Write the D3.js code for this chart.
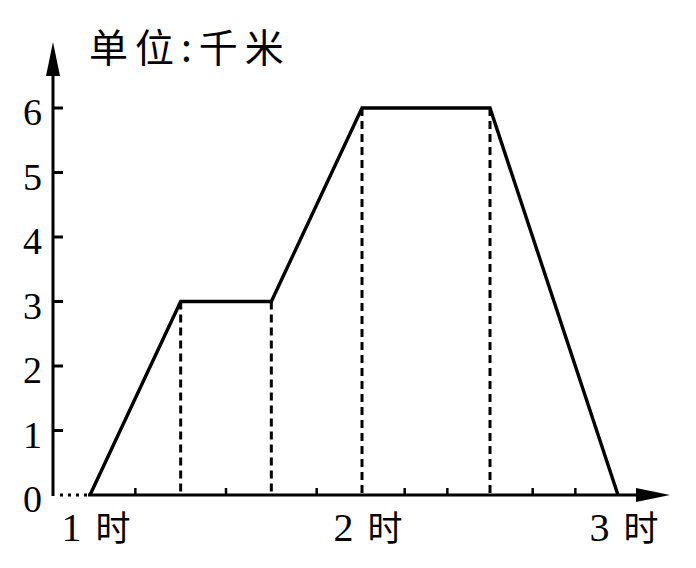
<!DOCTYPE html>
<html>
<head>
<meta charset="utf-8">
<script src="https://cdn.jsdelivr.net/npm/d3@7"></script>
<style>
  body { margin: 0; background: #fff; }
</style>
</head>
<body>
<div id="chart"></div>
<script>
// minutes after 1时, distance in 千米
const times = [0, 20, 40, 60, 90, 120];
const distances = [0, 3, 3, 6, 6, 0];
const yTicks = [0, 1, 2, 3, 4, 5, 6];
const xMinorTicks = [10, 30, 50, 70, 80, 100, 110];
const xLabelTimes = [0, 60, 120];
const xLabelNums = ["1", "2", "3"];
const unitLabel = "单位:千米";

const W = 696, H = 568;
const axisX = 53, axisY = 495;

var svg = d3.select("#chart")
    .append("svg")
    .attr("width", W)
    .attr("height", H);

// the drawing is a bit stretched in the middle, so a 3-point scale
var x = d3.scaleLinear().domain([0, 60, 120]).range([90, 362, 618]);
var y = d3.scaleLinear().domain([0, 6]).range([axisY, 108]);

var points = times.map(function (t, i) { return [t, distances[i]]; });

// dashed drop lines at the corners
svg.selectAll(".drop")
    .data(points.slice(1, -1))
    .enter()
    .append("line")
    .attr("x1", function (d) { return x(d[0]); })
    .attr("x2", function (d) { return x(d[0]); })
    .attr("y1", function (d) { return y(d[1]); })
    .attr("y2", axisY)
    .attr("stroke", "#000")
    .attr("stroke-width", 3)
    .attr("stroke-dasharray", "8,5");

// y axis
svg.append("line")
    .attr("x1", axisX).attr("x2", axisX)
    .attr("y1", axisY + 1).attr("y2", 72)
    .attr("stroke", "#000").attr("stroke-width", 3);
svg.append("path")
    .attr("d", "M" + axisX + ",42 L" + (axisX - 7) + ",76 L" + (axisX + 7) + ",76 Z")
    .attr("fill", "#000");

svg.selectAll(".ytick")
    .data(yTicks.filter(function (d) { return d > 0; }))
    .enter()
    .append("line")
    .attr("x1", axisX).attr("x2", axisX + 10)
    .attr("y1", function (d) { return y(d); })
    .attr("y2", function (d) { return y(d); })
    .attr("stroke", "#000").attr("stroke-width", 3);

svg.selectAll(".ylabel")
    .data(yTicks)
    .enter()
    .append("text")
    .attr("x", 42)
    .attr("y", function (d) { return y(d) + 17; })
    .attr("text-anchor", "end")
    .attr("font-family", "Liberation Serif")
    .attr("font-size", 38)
    .text(function (d) { return d; });

// x axis: dotted up to 1时, then solid with arrow
svg.append("line")
    .attr("x1", axisX + 7).attr("x2", x(0) - 2)
    .attr("y1", axisY).attr("y2", axisY)
    .attr("stroke", "#000").attr("stroke-width", 3)
    .attr("stroke-dasharray", "3,5");
svg.append("line")
    .attr("x1", x(0) - 2).attr("x2", 640)
    .attr("y1", axisY).attr("y2", axisY)
    .attr("stroke", "#000").attr("stroke-width", 3);
svg.append("path")
    .attr("d", "M670," + axisY + " L636," + (axisY - 7) + " L636," + (axisY + 7) + " Z")
    .attr("fill", "#000");

svg.selectAll(".xtick")
    .data(xMinorTicks)
    .enter()
    .append("line")
    .attr("x1", function (d) { return x(d); })
    .attr("x2", function (d) { return x(d); })
    .attr("y1", axisY).attr("y2", axisY - 7)
    .attr("stroke", "#000").attr("stroke-width", 2.5);

var xl = svg.selectAll(".xlabel")
    .data(xLabelTimes)
    .enter()
    .append("text")
    .attr("x", function (d) { return x(d) + 6; })
    .attr("y", 541)
    .attr("text-anchor", "middle");
xl.append("tspan")
    .attr("font-family", "Liberation Serif")
    .attr("font-size", 40)
    .text(function (d, i) { return xLabelNums[i]; });
xl.append("tspan")
    .attr("dx", 14)
    .attr("font-family", "Noto Sans CJK SC")
    .attr("font-size", 35)
    .text("时");

// distance line
svg.append("path")
    .datum(points)
    .attr("fill", "none")
    .attr("stroke", "#000")
    .attr("stroke-width", 3.4)
    .attr("stroke-linejoin", "miter")
    .attr("d", d3.line()
        .x(function (d) { return x(d[0]); })
        .y(function (d) { return y(d[1]); }));

// unit label
svg.append("text")
    .attr("x", 89)
    .attr("y", 62)
    .attr("font-family", "Noto Sans CJK SC")
    .attr("font-size", 39)
    .attr("letter-spacing", 7)
    .text(unitLabel);
</script>
</body>
</html>
